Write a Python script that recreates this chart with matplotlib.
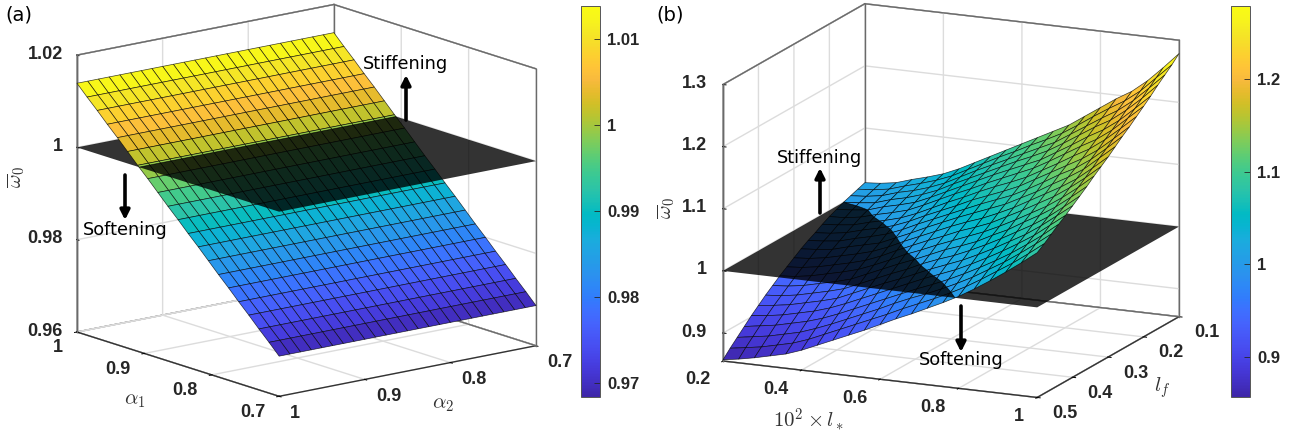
import numpy as np
import matplotlib
matplotlib.use('Agg')
import matplotlib.pyplot as plt
from matplotlib.colors import LinearSegmentedColormap, Normalize
from matplotlib.cm import ScalarMappable
from matplotlib.patches import FancyArrowPatch
from matplotlib.transforms import Affine2D
from mpl_toolkits.mplot3d import proj3d
from mpl_toolkits.mplot3d.art3d import Poly3DCollection

plt.rcParams['font.family'] = 'Liberation Sans'
plt.rcParams['font.weight'] = 'bold'
plt.rcParams['mathtext.fontset'] = 'cm'

W, H = 1293, 434

# parula
parula_colors = [
    (0.2422, 0.1504, 0.6603), (0.2578, 0.1818, 0.7511), (0.2706, 0.2147, 0.8364),
    (0.2783, 0.2559, 0.8991), (0.2813, 0.3006, 0.9414), (0.2795, 0.3447, 0.9717),
    (0.2699, 0.3892, 0.9906), (0.2440, 0.4358, 0.9988), (0.1963, 0.4847, 0.9892),
    (0.1786, 0.5289, 0.9682), (0.1687, 0.5703, 0.9359), (0.1460, 0.6091, 0.9079),
    (0.1248, 0.6459, 0.8883), (0.0952, 0.6798, 0.8598), (0.0297, 0.7082, 0.8163),
    (0.0067, 0.7312, 0.7660), (0.0964, 0.7500, 0.7120), (0.1717, 0.7670, 0.6554),
    (0.2161, 0.7843, 0.5923), (0.2906, 0.7973, 0.5188), (0.3909, 0.8029, 0.4354),
    (0.5044, 0.7993, 0.3480), (0.6174, 0.7876, 0.2612), (0.7242, 0.7698, 0.1910),
    (0.8203, 0.7498, 0.1535), (0.9035, 0.7330, 0.1774), (0.9728, 0.7298, 0.2394),
    (0.9970, 0.7659, 0.2199), (0.9892, 0.8136, 0.1885), (0.9676, 0.8639, 0.1643),
    (0.9597, 0.9135, 0.1423), (0.9691, 0.9606, 0.1064), (0.9769, 0.9839, 0.0805),
]
parula = LinearSegmentedColormap.from_list('parula', parula_colors, N=256)

# panel a
alpha2_grid = np.linspace(1, 0.7, 25)
alpha1_grid = np.linspace(1, 0.7, 21)
omega_a_rows = [1.0139, 1.0116, 1.0094, 1.0071, 1.0049, 1.0026, 1.0003, 0.9981, 0.9958, 0.9935, 0.9913,
                0.9890, 0.9868, 0.9845, 0.9822, 0.9800, 0.9777, 0.9755, 0.9732, 0.9710, 0.9687]
alpha_ticks = [1, 0.9, 0.8, 0.7]
alpha_labels = ['1', '0.9', '0.8', '0.7']
z_ticks_a = [0.96, 0.98, 1, 1.02]
z_labels_a = ['0.96', '0.98', '1', '1.02']
cbar_ticks_a = [0.97, 0.98, 0.99, 1, 1.01]
cbar_labels_a = ['0.97', '0.98', '0.99', '1', '1.01']

# panel b, rows l* = 0.2..1, columns lf = 0.5..0.1
lstar_grid = np.linspace(0.2, 1, 21)
lf_grid = np.linspace(0.5, 0.1, 21)
omega_b = np.array([
    [0.857, 0.869, 0.880, 0.891, 0.902, 0.912, 0.922, 0.931, 0.940, 0.948, 0.956, 0.964, 0.971, 0.977, 0.984, 0.990, 0.995, 1.000, 1.004, 1.008, 1.012],
    [0.861, 0.873, 0.884, 0.895, 0.905, 0.915, 0.924, 0.933, 0.942, 0.950, 0.958, 0.966, 0.973, 0.979, 0.986, 0.991, 0.997, 1.002, 1.006, 1.010, 1.014],
    [0.866, 0.877, 0.888, 0.899, 0.909, 0.919, 0.928, 0.937, 0.946, 0.954, 0.962, 0.969, 0.976, 0.983, 0.989, 0.995, 1.000, 1.005, 1.010, 1.014, 1.018],
    [0.872, 0.883, 0.894, 0.905, 0.915, 0.925, 0.934, 0.943, 0.952, 0.960, 0.968, 0.976, 0.983, 0.990, 0.996, 1.002, 1.008, 1.013, 1.018, 1.022, 1.026],
    [0.878, 0.889, 0.900, 0.911, 0.921, 0.931, 0.940, 0.949, 0.958, 0.966, 0.974, 0.982, 0.989, 0.996, 1.002, 1.008, 1.014, 1.019, 1.024, 1.029, 1.033],
    [0.887, 0.898, 0.909, 0.919, 0.929, 0.938, 0.947, 0.956, 0.965, 0.973, 0.981, 0.988, 0.996, 1.003, 1.009, 1.015, 1.021, 1.027, 1.032, 1.037, 1.041],
    [0.898, 0.909, 0.919, 0.929, 0.939, 0.949, 0.958, 0.967, 0.975, 0.983, 0.991, 0.999, 1.006, 1.013, 1.019, 1.026, 1.032, 1.037, 1.042, 1.047, 1.052],
    [0.909, 0.920, 0.930, 0.940, 0.950, 0.960, 0.969, 0.978, 0.986, 0.995, 1.003, 1.010, 1.018, 1.025, 1.031, 1.038, 1.044, 1.050, 1.055, 1.060, 1.065],
    [0.920, 0.931, 0.941, 0.951, 0.961, 0.971, 0.980, 0.989, 0.998, 1.006, 1.014, 1.022, 1.029, 1.036, 1.043, 1.050, 1.056, 1.062, 1.068, 1.073, 1.078],
    [0.931, 0.942, 0.952, 0.962, 0.972, 0.981, 0.990, 0.999, 1.008, 1.017, 1.025, 1.033, 1.040, 1.047, 1.054, 1.061, 1.068, 1.074, 1.080, 1.086, 1.091],
    [0.943, 0.953, 0.964, 0.973, 0.983, 0.992, 1.002, 1.010, 1.019, 1.027, 1.036, 1.044, 1.051, 1.059, 1.066, 1.073, 1.080, 1.086, 1.092, 1.098, 1.104],
    [0.955, 0.965, 0.975, 0.984, 0.994, 1.003, 1.012, 1.021, 1.029, 1.038, 1.046, 1.054, 1.062, 1.069, 1.077, 1.084, 1.091, 1.098, 1.104, 1.111, 1.117],
    [0.966, 0.976, 0.985, 0.994, 1.004, 1.013, 1.021, 1.030, 1.039, 1.047, 1.055, 1.064, 1.072, 1.079, 1.087, 1.095, 1.102, 1.109, 1.116, 1.123, 1.130],
    [0.978, 0.987, 0.996, 1.005, 1.014, 1.023, 1.032, 1.040, 1.049, 1.057, 1.066, 1.074, 1.082, 1.090, 1.098, 1.106, 1.113, 1.121, 1.128, 1.136, 1.143],
    [0.990, 0.999, 1.008, 1.017, 1.026, 1.035, 1.044, 1.053, 1.061, 1.070, 1.078, 1.087, 1.095, 1.104, 1.112, 1.120, 1.128, 1.136, 1.144, 1.152, 1.160],
    [1.003, 1.012, 1.021, 1.030, 1.039, 1.048, 1.057, 1.065, 1.074, 1.083, 1.092, 1.100, 1.109, 1.118, 1.126, 1.135, 1.143, 1.152, 1.160, 1.169, 1.177],
    [1.018, 1.027, 1.036, 1.044, 1.053, 1.062, 1.071, 1.080, 1.088, 1.097, 1.106, 1.115, 1.124, 1.132, 1.141, 1.150, 1.159, 1.168, 1.176, 1.185, 1.194],
    [1.034, 1.043, 1.051, 1.059, 1.068, 1.076, 1.085, 1.094, 1.102, 1.111, 1.120, 1.129, 1.137, 1.146, 1.155, 1.164, 1.173, 1.182, 1.191, 1.200, 1.209],
    [1.051, 1.059, 1.068, 1.076, 1.084, 1.093, 1.101, 1.110, 1.119, 1.128, 1.136, 1.145, 1.154, 1.163, 1.173, 1.182, 1.191, 1.201, 1.210, 1.219, 1.229],
    [1.069, 1.077, 1.086, 1.094, 1.103, 1.112, 1.120, 1.129, 1.138, 1.147, 1.156, 1.166, 1.175, 1.184, 1.194, 1.204, 1.213, 1.223, 1.233, 1.243, 1.253],
    [1.088, 1.096, 1.105, 1.114, 1.122, 1.131, 1.140, 1.149, 1.159, 1.168, 1.177, 1.187, 1.197, 1.206, 1.216, 1.226, 1.236, 1.247, 1.257, 1.267, 1.2785],
])
lstar_ticks = [0.2, 0.4, 0.6, 0.8, 1]
lstar_labels = ['0.2', '0.4', '0.6', '0.8', '1']
lf_ticks = [0.5, 0.4, 0.3, 0.2, 0.1]
lf_labels = ['0.5', '0.4', '0.3', '0.2', '0.1']
z_ticks_b = [0.9, 1, 1.1, 1.2, 1.3]
z_labels_b = ['0.9', '1', '1.1', '1.2', '1.3']
cbar_ticks_b = [0.9, 1, 1.1, 1.2]
cbar_labels_b = ['0.9', '1', '1.1', '1.2']


def clip_poly(poly, level, keep_above):
    out = []
    for k in range(len(poly)):
        p, q = poly[k], poly[(k + 1) % len(poly)]
        pin = p[2] >= level if keep_above else p[2] <= level
        qin = q[2] >= level if keep_above else q[2] <= level
        if pin:
            out.append(p)
        if pin != qin and p[2] != q[2]:
            t = (level - p[2]) / (q[2] - p[2])
            out.append((p[0] + t * (q[0] - p[0]), p[1] + t * (q[1] - p[1]), level))
    return out


def draw_surface(ax, xs, ys, zs, norm):
    # the surface is cut at the z=1 plane so the plane can go between both parts
    below, above, c_below, c_above = [], [], [], []
    for i in range(len(xs) - 1):
        for j in range(len(ys) - 1):
            quad = [(xs[i], ys[j], zs[i, j]), (xs[i + 1], ys[j], zs[i + 1, j]),
                    (xs[i + 1], ys[j + 1], zs[i + 1, j + 1]), (xs[i], ys[j + 1], zs[i, j + 1])]
            col = parula(norm(np.mean([c[2] for c in quad])))
            lo = clip_poly(quad, 1, False)
            hi = clip_poly(quad, 1, True)
            if len(lo) > 2:
                below.append(lo)
                c_below.append(col)
            if len(hi) > 2:
                above.append(hi)
                c_above.append(col)
    for polys, cols, zo in ((below, c_below, 1), (above, c_above, 3)):
        pc = Poly3DCollection(polys, facecolors=cols, edgecolors=(0, 0, 0, 0.75), linewidths=0.5)
        pc.set_zorder(zo)
        ax.add_collection3d(pc, autolim=False)
    x0, x1 = ax.get_xlim()
    y0, y1 = ax.get_ylim()
    plane = Poly3DCollection([[(x0, y0, 1), (x1, y0, 1), (x1, y1, 1), (x0, y1, 1)]],
                             facecolors=(0, 0, 0, 0.8), edgecolors='none')
    plane.set_zorder(2)
    ax.add_collection3d(plane, autolim=False)


def style_axes(ax):
    ax.computed_zorder = False
    ax.patch.set_alpha(0)
    for axis in (ax.xaxis, ax.yaxis, ax.zaxis):
        axis.set_pane_color((1, 1, 1, 1))
        axis.pane.set_edgecolor('#6a6a6a')
        axis.pane.set_linewidth(1.0)
        axis.line.set_color('#333333')
        axis.line.set_linewidth(1.0)
        axis._axinfo['grid'].update(color='#dcdcdc', linewidth=1.0)
        axis._axinfo['tick'].update(inward_factor=0.12, outward_factor=0.02)
        axis._axinfo['tick']['linewidth'] = {True: 0.7, False: 0.5}
        axis._axinfo['tick']['color'] = '#333333'


def draw_frame(ax):
    # back edges of the box, the grid lines at the limits would hide them
    x0, x1 = ax.get_xlim()
    y0, y1 = ax.get_ylim()
    z0, z1 = ax.get_zlim()
    edges = [((x0, y0, z1), (x0, y1, z1)), ((x0, y1, z1), (x1, y1, z1)),
             ((x0, y0, z0), (x0, y0, z1)), ((x1, y1, z0), (x1, y1, z1)),
             ((x0, y1, z0), (x0, y1, z1)), ((x0, y1, z0), (x1, y1, z0))]
    for p, q in edges:
        ax.plot([p[0], q[0]], [p[1], q[1]], [p[2], q[2]], color='#6a6a6a', lw=1.0, zorder=0.5)


def tick_labels(ax, points, labels, dx, dy, ha):
    # labels sit a fixed number of pixels away from the projected tick
    for pt, txt in zip(points, labels):
        x, y, _ = proj3d.proj_transform(pt[0], pt[1], pt[2], ax.get_proj())
        ax.annotate(txt, xy=(x, y), xycoords='data', xytext=(dx, dy), textcoords='offset pixels',
                    ha=ha, va='center', fontsize=13, color='#262626', annotation_clip=False)


def fit_box(ax, corner_a, corner_b, px_a, px_b):
    # puts two box corners on the wanted pixels
    def pix(c):
        x, y, _ = proj3d.proj_transform(c[0], c[1], c[2], ax.get_proj())
        return ax.transData.transform((x, y))
    size = 600.0
    ax.set_position([0, 0, size / W, size / H])
    ax.apply_aspect()
    span = pix(corner_b)[0] - pix(corner_a)[0]
    size = size * (px_b[0] - px_a[0]) / span
    ax.set_position([0, 0, size / W, size / H])
    ax.apply_aspect()
    p = pix(corner_a)
    dx, dy = px_a[0] - p[0], (H - px_a[1]) - p[1]
    ax.set_position([dx / W, dy / H, size / W, size / H])


def add_cbar(left, ticks, labels, vmin, vmax):
    cax = fig.add_axes([left / W, 1 - 397 / H, 19 / W, 391 / H])
    sm = ScalarMappable(norm=Normalize(vmin, vmax), cmap=parula)
    cb = fig.colorbar(sm, cax=cax)
    cb.set_ticks(ticks, labels=labels)
    cb.ax.tick_params(direction='in', length=4, width=0.6, labelsize=12, pad=5, colors='#262626')
    cb.outline.set_edgecolor('#555555')
    cb.outline.set_linewidth(0.7)


def px_arrow(x, y0, y1):
    tr = Affine2D().scale(1 / W, -1 / H).translate(0, 1) + fig.transFigure
    fig.add_artist(FancyArrowPatch((x, y0), (x, y1), transform=tr, arrowstyle='-|>',
                                   mutation_scale=14, lw=2.6, color='k', shrinkA=0, shrinkB=0))


def px_text(x, y, s, **kw):
    fig.text(x / W, 1 - y / H, s, ha='center', va='center', **kw)


fig = plt.figure(figsize=(W / 100, H / 100), dpi=100)

# (a)
ax1 = fig.add_subplot(projection='3d', proj_type='ortho')
ax1.set_box_aspect((1, 1, 0.875))
ax1.view_init(elev=14.5, azim=-38.2)
ax1.set_xlim(1, 0.7, view_margin=0)
ax1.set_ylim(1, 0.7, view_margin=0)
ax1.set_zlim(0.96, 1.02, view_margin=0)
style_axes(ax1)
ax1.set_xticks(alpha_ticks, labels=[''] * 4)
ax1.set_yticks(alpha_ticks, labels=[''] * 4)
ax1.set_zticks(z_ticks_a, labels=[''] * 4)
ax1.zaxis.set_ticks_position('upper')
draw_frame(ax1)
norm_a = Normalize(0.9684, 1.0138)
draw_surface(ax1, alpha1_grid, alpha2_grid, np.tile(omega_a_rows, (len(alpha2_grid), 1)).T, norm_a)
fit_box(ax1, (1, 1, 0.96), (0.7, 0.7, 0.96), (77, 332), (536, 347))
tick_labels(ax1, [(t, 1, 0.96) for t in alpha_ticks], alpha_labels, -14, -16, 'right')
tick_labels(ax1, [(0.7, t, 0.96) for t in alpha_ticks], alpha_labels, 11, -17, 'left')
tick_labels(ax1, [(1, 1, t) for t in z_ticks_a], z_labels_a, -14, 1, 'right')

# (b)
ax2 = fig.add_subplot(projection='3d', proj_type='ortho')
ax2.set_box_aspect((1, 1, 0.83))
ax2.view_init(elev=14.9, azim=-65.7)
ax2.set_xlim(0.2, 1, view_margin=0)
ax2.set_ylim(0.5, 0.1, view_margin=0)
ax2.set_zlim(0.855, 1.3, view_margin=0)
style_axes(ax2)
ax2.set_xticks(lstar_ticks, labels=[''] * 5)
ax2.set_yticks(lf_ticks, labels=[''] * 5)
ax2.set_zticks(z_ticks_b, labels=[''] * 5)
ax2.zaxis.set_ticks_position('upper')
draw_frame(ax2)
norm_b = Normalize(0.857, 1.2785)
draw_surface(ax2, lstar_grid, lf_grid, omega_b, norm_b)
fit_box(ax2, (0.2, 0.5, 0.855), (1, 0.1, 0.855), (723, 361), (1179, 315))
tick_labels(ax2, [(t, 0.5, 0.855) for t in lstar_ticks], lstar_labels, -13, -19, 'right')
tick_labels(ax2, [(1, t, 0.855) for t in lf_ticks], lf_labels, 15, -16, 'left')
tick_labels(ax2, [(0.2, 0.5, t) for t in z_ticks_b], z_labels_b, -16, 1, 'right')

add_cbar(581, cbar_ticks_a, cbar_labels_a, 0.9684, 1.0138)
add_cbar(1231, cbar_ticks_b, cbar_labels_b, 0.857, 1.2785)

# arrows and notes
note = dict(family='DejaVu Sans', fontweight='normal', fontsize=12.8, color='k')
px_arrow(406, 120, 75)
px_arrow(125, 175, 220)
px_arrow(820, 213, 168)
px_arrow(961, 306, 352)
px_text(406, 64, 'Stiffening', **note)
px_text(125, 230, 'Softening', **note)
px_text(820, 158, 'Stiffening', **note)
px_text(961, 360, 'Softening', **note)
note['fontsize'] = 14
px_text(19, 15, '(a)', **note)
px_text(670, 15, '(b)', **note)

# axis labels
lab = dict(fontsize=15, fontweight='normal', color='#333333')
px_text(135, 400, r'$\alpha_1$', **lab)
px_text(443, 404, r'$\alpha_2$', **lab)
px_text(16, 177, r'$\overline{\omega}_0$', rotation=90, **lab)
px_text(808, 420, r'$10^2 \times l_*$', **lab)
px_text(1162, 388, r'$l_f$', **lab)
px_text(666, 208, r'$\overline{\omega}_0$', rotation=90, **lab)

fig.savefig('out.png', dpi=100)
